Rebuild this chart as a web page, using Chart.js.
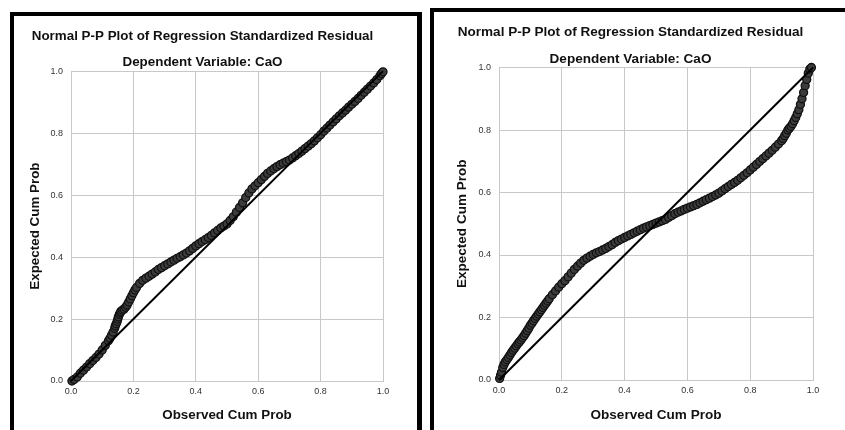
<!DOCTYPE html>
<html>
<head>
<meta charset="utf-8">
<script src="https://cdn.jsdelivr.net/npm/chart.js@4"></script>
<style>
  html, body { margin:0; padding:0; background:#fff; overflow:hidden; width:845px; height:430px; }
  .panel { position:absolute; box-sizing:border-box; border:4px solid #000; border-bottom:none; }
  #p1 { left:10px; top:12px; width:412px; height:440px; border-right-width:5px; }
  #p2 { left:430px; top:8px; width:440px; height:440px; }
  canvas { position:absolute; }
  #c1 { left:14px; top:16px; }
  #c2 { left:434px; top:12px; }
</style>
</head>
<body>
<div class="panel" id="p1"></div>
<div class="panel" id="p2"></div>
<canvas id="c1" width="382" height="414"></canvas>
<canvas id="c2" width="392" height="418"></canvas>
<script>
// ---- data ----
const chartTitle = 'Normal P-P Plot of Regression Standardized Residual';
const chartSubtitle = 'Dependent Variable: CaO';
const xAxisTitle = 'Observed Cum Prob';
const yAxisTitle = 'Expected Cum Prob';
const tickValues = [0, 0.2, 0.4, 0.6, 0.8, 1.0];
const tickLabels = ['0.0', '0.2', '0.4', '0.6', '0.8', '1.0'];
const diagX = [0, 1];
const diagY = [0, 1];

// left panel: observed vs expected cumulative probability
const leftObs = [0.003,0.01,0.02,0.03,0.04,0.05,0.06,0.07,0.08,0.09,0.1,0.11,0.12,0.125,0.13,0.135,0.14,0.142,0.145,0.148,0.15,0.152,0.155,0.158,0.16,0.165,0.17,0.175,0.18,0.185,0.19,0.195,0.2,0.205,0.21,0.22,0.23,0.24,0.25,0.26,0.27,0.28,0.29,0.3,0.31,0.32,0.33,0.34,0.35,0.36,0.37,0.38,0.39,0.4,0.41,0.42,0.43,0.44,0.45,0.46,0.47,0.48,0.49,0.5,0.51,0.52,0.53,0.54,0.55,0.56,0.57,0.58,0.59,0.6,0.61,0.62,0.63,0.64,0.65,0.66,0.67,0.68,0.69,0.7,0.71,0.72,0.73,0.74,0.75,0.76,0.77,0.78,0.79,0.8,0.81,0.82,0.83,0.84,0.85,0.86,0.87,0.88,0.89,0.9,0.91,0.92,0.93,0.94,0.95,0.96,0.97,0.98,0.99,0.995,1.0];
const leftExp = [0.0,0.005,0.013,0.025,0.035,0.045,0.056,0.066,0.076,0.087,0.1,0.115,0.13,0.138,0.148,0.158,0.17,0.178,0.185,0.192,0.2,0.207,0.215,0.22,0.225,0.229,0.232,0.238,0.245,0.255,0.265,0.275,0.285,0.294,0.302,0.315,0.325,0.332,0.338,0.345,0.352,0.36,0.366,0.372,0.378,0.384,0.39,0.396,0.401,0.407,0.413,0.42,0.428,0.436,0.443,0.45,0.456,0.463,0.47,0.478,0.486,0.494,0.5,0.507,0.518,0.53,0.545,0.56,0.575,0.592,0.607,0.62,0.63,0.64,0.65,0.66,0.67,0.678,0.685,0.692,0.698,0.703,0.708,0.713,0.72,0.727,0.734,0.742,0.75,0.758,0.766,0.775,0.785,0.795,0.806,0.816,0.826,0.836,0.846,0.856,0.865,0.874,0.884,0.893,0.902,0.912,0.922,0.932,0.942,0.952,0.962,0.973,0.985,0.992,0.998];

// right panel
const rightObs = [0.002,0.005,0.008,0.012,0.016,0.02,0.025,0.03,0.035,0.04,0.045,0.05,0.055,0.06,0.065,0.07,0.075,0.08,0.085,0.09,0.095,0.1,0.105,0.11,0.115,0.12,0.125,0.13,0.135,0.14,0.145,0.15,0.155,0.16,0.17,0.18,0.19,0.2,0.21,0.22,0.23,0.24,0.25,0.26,0.27,0.28,0.29,0.3,0.31,0.32,0.33,0.34,0.35,0.36,0.37,0.38,0.39,0.4,0.41,0.42,0.43,0.44,0.45,0.46,0.47,0.48,0.49,0.5,0.51,0.52,0.53,0.54,0.55,0.56,0.57,0.58,0.59,0.6,0.61,0.62,0.63,0.64,0.65,0.66,0.67,0.68,0.69,0.7,0.71,0.72,0.73,0.74,0.75,0.76,0.77,0.78,0.79,0.8,0.81,0.82,0.83,0.84,0.85,0.86,0.87,0.88,0.89,0.9,0.905,0.91,0.915,0.92,0.925,0.93,0.935,0.94,0.945,0.95,0.955,0.96,0.965,0.97,0.975,0.98,0.985,0.99,0.995];
const rightExp = [0.005,0.015,0.025,0.04,0.05,0.058,0.065,0.072,0.08,0.088,0.095,0.102,0.109,0.116,0.122,0.128,0.135,0.142,0.15,0.158,0.166,0.175,0.182,0.19,0.197,0.204,0.211,0.218,0.225,0.232,0.239,0.246,0.253,0.26,0.273,0.285,0.297,0.308,0.318,0.33,0.342,0.354,0.364,0.374,0.383,0.39,0.396,0.402,0.407,0.411,0.416,0.421,0.427,0.433,0.44,0.446,0.451,0.456,0.461,0.466,0.471,0.476,0.481,0.486,0.49,0.494,0.498,0.502,0.506,0.51,0.514,0.52,0.526,0.532,0.537,0.541,0.546,0.55,0.554,0.558,0.562,0.567,0.572,0.577,0.582,0.587,0.592,0.598,0.605,0.612,0.619,0.626,0.632,0.639,0.647,0.655,0.663,0.672,0.681,0.69,0.699,0.708,0.717,0.726,0.735,0.745,0.755,0.766,0.773,0.782,0.79,0.8,0.806,0.812,0.82,0.83,0.84,0.852,0.865,0.882,0.9,0.92,0.942,0.962,0.982,0.995,1.0];

// ---- chart construction ----
const FONT = "'Liberation Sans', Arial, sans-serif";

function makeChart(canvasId, obs, exp, cfg) {
  const pts = obs.map((x, i) => ({ x: x, y: exp[i] }));
  const diag = diagX.map((x, i) => ({ x: x, y: diagY[i] }));
  const gridColor = '#c8c8c8';
  const bold = { family: FONT, size: cfg.fontSize, weight: 'bold', lineHeight: 1.2 };
  return new Chart(document.getElementById(canvasId), {
    type: 'scatter',
    data: {
      datasets: [
        {
          type: 'line', data: diag, borderColor: '#000', borderWidth: 2,
          pointRadius: 0, fill: false, order: 0, clip: false
        },
        {
          data: pts, pointRadius: 4, pointHoverRadius: 4,
          pointBackgroundColor: '#3c3c3c', pointBorderColor: '#111', pointBorderWidth: 1.3,
          order: 1, clip: false
        }
      ]
    },
    options: {
      responsive: false, animation: false, devicePixelRatio: 1,
      layout: { padding: { left: cfg.padLeft, right: cfg.padRight, top: 0, bottom: 0 } },
      plugins: {
        legend: { display: false },
        tooltip: { enabled: false },
        title: {
          display: true, text: chartTitle, color: '#111', font: bold,
          padding: { top: 12, bottom: 0 }
        },
        subtitle: {
          display: true, text: chartSubtitle, color: '#111', font: bold,
          padding: { top: cfg.subTop, bottom: cfg.subBottom }
        }
      },
      scales: {
        x: {
          type: 'linear', min: 0, max: 1,
          afterBuildTicks: s => { s.ticks = tickValues.map(v => ({ value: v })); },
          afterFit: s => { s.height = cfg.xHeight; },
          ticks: {
            callback: (v) => tickLabels[tickValues.indexOf(v)],
            color: '#333', font: { family: FONT, size: 9 }, padding: 5, maxRotation: 0
          },
          grid: { color: gridColor, lineWidth: 1, drawTicks: false },
          border: { color: gridColor, width: 1 },
          title: {
            display: true, text: xAxisTitle, color: '#111', font: bold,
            padding: { top: 0, bottom: 7 }
          }
        },
        y: {
          type: 'linear', min: 0, max: 1,
          afterBuildTicks: s => { s.ticks = tickValues.map(v => ({ value: v })); },
          afterFit: s => { s.width = cfg.yWidth; },
          ticks: {
            callback: (v) => tickLabels[tickValues.indexOf(v)],
            color: '#333', font: { family: FONT, size: 9 }, padding: 8
          },
          grid: { color: gridColor, lineWidth: 1, drawTicks: false },
          border: { color: gridColor, width: 1 },
          title: {
            display: true, text: yAxisTitle, color: '#111', font: bold,
            padding: { top: cfg.yTitlePad, bottom: 0 }
          }
        }
      }
    }
  });
}

makeChart('c1', leftObs, leftExp, { fontSize: 13.4, padLeft: 8, padRight: 13, xHeight: 49, yWidth: 49, yTitlePad: 5.3, subTop: 10, subBottom: 1 });
makeChart('c2', rightObs, rightExp, { fontSize: 13.55, padLeft: 14, padRight: 13, xHeight: 50, yWidth: 51, yTitlePad: 5.9, subTop: 11, subBottom: 0 });
</script>
</body>
</html>
